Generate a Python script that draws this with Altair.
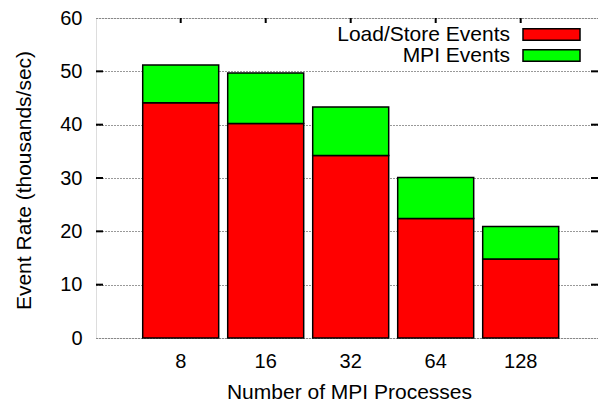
import altair as alt
import pandas as pd

procs = ["8", "16", "32", "64", "128"]
load_store = [44.1, 40.2, 34.2, 22.4, 14.8]
mpi_events = [7.1, 9.5, 9.1, 7.7, 6.1]
series = ["Load/Store Events", "MPI Events"]
colors = ["#ff0000", "#00ff00"]
y_ticks = [0, 10, 20, 30, 40, 50, 60]
inner_ticks = [10, 20, 30, 40, 50]

rows = []
for p, a, b in zip(procs, load_store, mpi_events):
    rows.append({"procs": p, "series": series[0], "ord": 0, "rate": a})
    rows.append({"procs": p, "series": series[1], "ord": 1, "rate": b})
df = pd.DataFrame(rows)
df_procs = pd.DataFrame({"procs": procs})
df_ticks = pd.DataFrame({"v": inner_ticks})

W, H = 502, 320
FONT = "Liberation Sans"

xscale = alt.Scale(domain=procs, paddingInner=0.106, paddingOuter=0.506, align=0.543)

bars = alt.Chart(df).mark_bar(stroke="black", strokeWidth=1.5, opacity=1).encode(
    x=alt.X("procs:N", sort=procs, scale=xscale,
            axis=alt.Axis(title="Number of MPI Processes", tickSize=0, domain=False,
                          labelAngle=0, labelPadding=29, labelBaseline="alphabetic",
                          labelFontSize=20, labelFont=FONT, labelColor="black",
                          titleFontSize=21, titleFont=FONT, titleFontWeight="normal",
                          titleColor="black", titleY=60, titleX=253,
                          titleBaseline="alphabetic")),
    y=alt.Y("rate:Q", stack="zero",
            scale=alt.Scale(domain=[0, 60], nice=False),
            axis=alt.Axis(values=y_ticks, title="Event Rate (thousands/sec)",
                          grid=True, gridDash=[1, 2], gridColor="#333", gridWidth=1,
                          tickSize=0, domain=False, labelPadding=14,
                          labelFontSize=20, labelFont=FONT, labelColor="black",
                          titleFontSize=21, titleFont=FONT, titleFontWeight="normal",
                          titleColor="black", titleX=-72, titleY=162,
                          titleAlign="center", titleBaseline="middle")),
    color=alt.Color("series:N", scale=alt.Scale(domain=series, range=colors),
                    legend=alt.Legend(title=None, orient="none", legendX=445, legendY=6,
                                      direction="vertical", rowPadding={"expr": "-1"},
                                      symbolType="M-5,-1H5V1H-5Z", symbolSize=130,
                                      symbolStrokeColor="black", symbolStrokeWidth=1.5,
                                      symbolOpacity=1, labelAlign="right",
                                      labelOffset={"expr": "-52"},
                                      labelFontSize=21, labelFont=FONT, labelColor="black",
                                      labelLimit=0)),
    order=alt.Order("ord:Q", sort="ascending"),
)

top_ticks = alt.Chart(df_procs).mark_rule(color="black", strokeWidth=2).encode(
    x=alt.X("procs:N", sort=procs, scale=xscale, bandPosition=0.5),
    y=alt.value(0), y2=alt.value(5),
)

left_ticks = alt.Chart(df_ticks).mark_rule(color="black", strokeWidth=2).encode(
    y=alt.Y("v:Q"), x=alt.value(0), x2=alt.value(7),
)
right_ticks = alt.Chart(df_ticks).mark_rule(color="black", strokeWidth=2).encode(
    y=alt.Y("v:Q"), x=alt.value(W - 7), x2=alt.value(W),
)

chart = alt.layer(bars, top_ticks, left_ticks, right_ticks).properties(
    width=W, height=H,
    autosize=alt.AutoSizeParams(type="none"),
    padding={"left": 88, "top": 10, "right": 0, "bottom": 64},
).configure_view(stroke="black", strokeWidth=3).configure(background="white")

chart.save("out.html", embed_options={"renderer": "svg", "actions": False})
